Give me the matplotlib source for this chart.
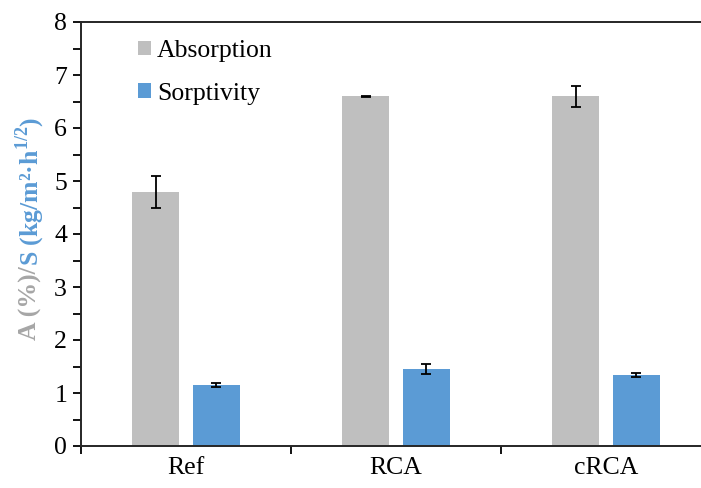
import numpy as np
import matplotlib
matplotlib.use("Agg")
from matplotlib import pyplot as plt
from matplotlib.patches import Patch
from matplotlib.ticker import MultipleLocator, FixedLocator

plt.rcParams['font.family'] = 'Liberation Serif'
plt.rcParams['mathtext.fontset'] = 'custom'
plt.rcParams['mathtext.rm'] = 'Liberation Serif'
plt.rcParams['mathtext.bf'] = 'Liberation Serif:bold'

# water uptake data
categories = ["Ref", "RCA", "cRCA"]
absorption = [4.8, 6.6, 6.6]
absorption_err = [0.3, 0.01, 0.2]
sorptivity = [1.15, 1.45, 1.34]
sorptivity_err = [0.03, 0.1, 0.03]

gray = "#BFBFBF"
blue = "#5B9BD5"
label_gray = "#A6A6A6"
fs = 18.5

W, H = 701, 488
fig = plt.figure(figsize=(W / 100, H / 100), dpi=100)
# plot area runs past the right edge of the figure
ax = fig.add_axes([81 / W, 1 - 446 / H, 630 / W, 424 / H])

x = np.arange(len(categories))
bw = 0.224
err_kw = dict(ecolor="black", elinewidth=1.3, capsize=3.6, capthick=1.3)
ax.bar(x - 0.143, absorption, bw, color=gray, yerr=absorption_err,
       error_kw=err_kw, label="Absorption", zorder=2)
ax.bar(x + 0.143, sorptivity, bw, color=blue, yerr=sorptivity_err,
       error_kw=err_kw, label="Sorptivity", zorder=2)

ax.set_xlim(-0.5, len(categories) - 0.5)
ax.set_ylim(0, 8)
ax.yaxis.set_major_locator(MultipleLocator(1))
ax.yaxis.set_minor_locator(MultipleLocator(0.5))
ax.set_xticks(x)
ax.set_xticklabels(categories, fontsize=fs)
# tick marks sit between the categories
ax.xaxis.set_minor_locator(FixedLocator(x - 0.5))
ax.tick_params(axis="x", which="major", length=0, pad=8)
ax.tick_params(axis="x", which="minor", length=6, width=1.3, direction="out")
ax.tick_params(axis="y", which="both", labelsize=fs, length=6, width=1.3,
               direction="out", pad=4)

for side in ("left", "bottom", "top"):
    ax.spines[side].set_linewidth(1.4)
    ax.spines[side].set_color("#262626")
ax.spines["right"].set_visible(False)

# two-coloured y label
fig.canvas.draw()
renderer = fig.canvas.get_renderer()
lx, ly = 30 / W, 1 - 340 / H
t1 = fig.text(lx, ly, "A (%)/", rotation=90, color=label_gray, fontsize=fs,
              fontweight="bold", ha="center", va="bottom")
bb = t1.get_window_extent(renderer)
t2 = fig.text(lx, ly + bb.height / fig.bbox.height,
              "S (kg/m²·h$^{\\mathbf{1/2}}$)", rotation=90, color=blue,
              fontsize=fs, fontweight="bold", ha="center", va="bottom")

handles = [Patch(facecolor=gray, edgecolor="none", label="Absorption"),
           Patch(facecolor=blue, edgecolor="none", label="Sorptivity")]
ax.legend(handles=handles, loc="upper left", bbox_to_anchor=(0.09, 0.957),
          frameon=False, fontsize=fs, borderpad=0, borderaxespad=0,
          handlelength=0.5, handleheight=0.5, handletextpad=0.25,
          labelspacing=0.8)

fig.savefig("out.png", dpi=100)
